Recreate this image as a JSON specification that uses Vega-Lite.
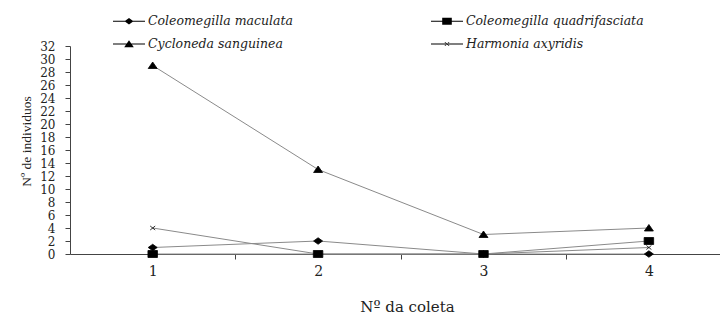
{
  "$schema": "https://vega.github.io/schema/vega-lite/v6.json",
  "width": 650,
  "height": 208,
  "autosize": {"type": "none"},
  "padding": {"left": 70, "top": 46, "right": 0, "bottom": 62},
  "background": "white",
  "config": {
    "view": {"stroke": null},
    "font": "DejaVu Serif",
    "axis": {"labelFont": "DejaVu Serif", "titleFont": "DejaVu Serif", "labelColor": "#222", "titleColor": "#222", "titleFontWeight": "normal", "domainColor": "#444", "tickColor": "#444", "grid": false}
  },
  "data": {
    "values": [
      {"Coleta": 1, "Especie": "Coleomegilla maculata", "N": 1},
      {"Coleta": 2, "Especie": "Coleomegilla maculata", "N": 2},
      {"Coleta": 3, "Especie": "Coleomegilla maculata", "N": 0},
      {"Coleta": 4, "Especie": "Coleomegilla maculata", "N": 0},
      {"Coleta": 1, "Especie": "Coleomegilla quadrifasciata", "N": 0},
      {"Coleta": 2, "Especie": "Coleomegilla quadrifasciata", "N": 0},
      {"Coleta": 3, "Especie": "Coleomegilla quadrifasciata", "N": 0},
      {"Coleta": 4, "Especie": "Coleomegilla quadrifasciata", "N": 2},
      {"Coleta": 1, "Especie": "Cycloneda sanguinea", "N": 29},
      {"Coleta": 2, "Especie": "Cycloneda sanguinea", "N": 13},
      {"Coleta": 3, "Especie": "Cycloneda sanguinea", "N": 3},
      {"Coleta": 4, "Especie": "Cycloneda sanguinea", "N": 4},
      {"Coleta": 1, "Especie": "Harmonia axyridis", "N": 4},
      {"Coleta": 2, "Especie": "Harmonia axyridis", "N": 0},
      {"Coleta": 3, "Especie": "Harmonia axyridis", "N": 0},
      {"Coleta": 4, "Especie": "Harmonia axyridis", "N": 1}
    ]
  },
  "encoding": {
    "x": {
      "field": "Coleta", "type": "quantitative",
      "scale": {"domain": [0.5, 4.43], "nice": false, "zero": false},
      "axis": {
        "title": "Nº da coleta", "titleFontSize": 15, "titlePadding": 21, "titleX": 337,
        "values": [1, 1.5, 2, 2.5, 3, 3.5, 4],
        "labelExpr": "datum.value % 1 === 0 ? format(datum.value, 'd') : ''",
        "labelFontSize": 14, "labelPadding": 5, "tickSize": 5,
        "tickOpacity": {"condition": {"test": "datum.value % 1 !== 0", "value": 1}, "value": 0},
        "labelOverlap": false, "labelFlush": false
      }
    },
    "y": {
      "field": "N", "type": "quantitative",
      "scale": {"domain": [0, 32], "nice": false},
      "axis": {
        "title": "Nº de individuos", "titleFont": "Liberation Serif", "titleFontSize": 13.5, "titlePadding": 6, "titleY": 95,
        "values": [0, 2, 4, 6, 8, 10, 12, 14, 16, 18, 20, 22, 24, 26, 28, 30, 32],
        "labelFontSize": 12, "labelOverlap": false, "labelPadding": 10, "tickSize": 5,
        "labelBaseline": "middle"
      }
    }
  },
  "layer": [
    {
      "mark": {"type": "line", "color": "#8a8a8a", "strokeWidth": 1},
      "encoding": {"detail": {"field": "Especie"}}
    },
    {
      "mark": {"type": "point", "filled": true, "color": "black", "stroke": "black", "strokeWidth": 0.8, "opacity": 1},
      "encoding": {
        "shape": {
          "field": "Especie", "type": "nominal",
          "scale": {
            "domain": ["Coleomegilla maculata", "Coleomegilla quadrifasciata", "Cycloneda sanguinea", "Harmonia axyridis"],
            "range": [
              "M0,-0.65L0.9,0L0,0.65L-0.9,0Z",
              "M-0.95,-0.7H0.95V0.7H-0.95Z",
              "M0,-0.7L0.9,0.6H-0.9Z",
              "M-0.5,-0.4L0.5,0.4M-0.5,0.4L0.5,-0.4"
            ]
          },
          "legend": null
        },
        "size": {"value": 100}
      }
    },
    {
      "mark": {"type": "point", "filled": true, "color": "black", "size": 0},
      "encoding": {
        "shape": {
          "field": "Especie", "type": "nominal",
          "scale": {
            "domain": ["Coleomegilla maculata", "Coleomegilla quadrifasciata", "Cycloneda sanguinea", "Harmonia axyridis"],
            "range": [
              "M-1,-0.032H1V0.032H-1ZM0,-0.2L0.28,0L0,0.2L-0.28,0Z",
              "M-1,-0.032H1V0.032H-1ZM-0.3,-0.22H0.3V0.22H-0.3Z",
              "M-1,-0.032H1V0.032H-1ZM0,-0.24L0.3,0.2H-0.3Z",
              "M-1,-0.032H1V0.032H-1ZM-0.16,-0.13L-0.11,-0.13L0.16,0.13L0.11,0.13ZM-0.16,0.13L-0.11,0.13L0.16,-0.13L0.11,-0.13Z"
            ]
          },
          "legend": {
            "title": null, "orient": "none", "legendX": 43, "legendY": -41,
            "direction": "horizontal", "columns": 2, "columnPadding": 138, "rowPadding": -11,
            "symbolSize": 1024, "symbolStrokeWidth": 0, "symbolFillColor": "#1a1a1a", "symbolOpacity": 1,
            "labelFont": "DejaVu Serif", "labelFontStyle": "italic", "labelFontSize": 12.5,
            "labelColor": "#222", "labelOffset": 3, "labelLimit": 300
          }
        }
      }
    }
  ],
  "resolve": {"scale": {"shape": "independent"}, "legend": {"shape": "independent"}}
}
